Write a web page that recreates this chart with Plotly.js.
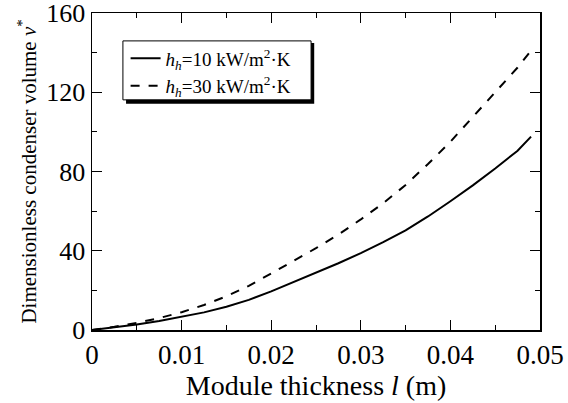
<!DOCTYPE html>
<html>
<head>
<meta charset="utf-8">
<script src="https://cdn.plot.ly/plotly-3.0.1.min.js"></script>
<style>html,body{margin:0;padding:0;background:#fff;}#chart{width:568px;height:403px;}</style>
</head>
<body>
<div id="chart"></div>
<script>
const thickness = [0, 0.0025, 0.005, 0.0075, 0.01, 0.0125, 0.015, 0.0175, 0.02, 0.0225, 0.025, 0.0275, 0.03, 0.0325, 0.035, 0.0375, 0.04, 0.0425, 0.045, 0.0475, 0.049];
const volumeH10 = [0, 1.3, 2.8, 4.6, 6.6, 8.9, 11.7, 15.2, 19.5, 24.2, 28.9, 33.7, 38.8, 44.3, 50.3, 57.3, 65, 73, 81.5, 90.5, 97.6];
const volumeH30 = [0, 1.6, 3.6, 6.0, 9.0, 12.6, 17.0, 22.3, 28.5, 34.8, 41.3, 48.2, 55.8, 64, 73.2, 83.8, 95, 107.5, 120, 132.5, 141];
const seriesNames = ["<i>h<sub>h</sub></i>=10 kW/m<sup>2</sup>·K", "<i>h<sub>h</sub></i>=30 kW/m<sup>2</sup>·K"];
const xTicks = [0, 0.01, 0.02, 0.03, 0.04, 0.05];
const xTickText = ["0", "0.01", "0.02", "0.03", "0.04", "0.05"];
const yTicks = [0, 40, 80, 120, 160];

const font = "Liberation Serif";
const traces = [
  {x: thickness, y: volumeH10, name: seriesNames[0], mode: "lines", line: {color: "#000", width: 2, dash: "solid"}},
  {x: thickness, y: volumeH30, name: seriesNames[1], mode: "lines", line: {color: "#000", width: 2, dash: "dash"}}
];
const axisCommon = {
  showline: true, linecolor: "#000", linewidth: 1.5, mirror: "ticks",
  ticks: "inside", ticklen: 10, tickwidth: 1.2, tickcolor: "#000",
  showgrid: false, zeroline: false, ticklabeloverflow: "allow"
};
const layout = {
  width: 568, height: 403,
  margin: {l: 92, r: 28, t: 13, b: 73},
  paper_bgcolor: "#fff", plot_bgcolor: "#fff",
  font: {family: font, color: "#000"},
  showlegend: true,
  xaxis: Object.assign({}, axisCommon, {
    range: [0, 0.05], tickvals: xTicks, ticktext: xTickText,
    tickfont: {family: font, size: 27, color: "#000"},
    minor: {ticks: "inside", ticklen: 5, tickwidth: 1, tickcolor: "#000", dtick: 0.005},
    title: {text: "Module thickness <i>l</i> (m)", font: {family: font, size: 28, color: "#000"}, standoff: 2}
  }),
  yaxis: Object.assign({}, axisCommon, {
    range: [0, 160], tickvals: yTicks,
    tickfont: {family: font, size: 26, color: "#000"},
    minor: {ticks: "inside", ticklen: 5, tickwidth: 1, tickcolor: "#000", dtick: 20},
    title: {text: "Dimensionless condenser volume <i>v</i><sup>*</sup>", font: {family: font, size: 21, color: "#000"}, standoff: 4}
  }),
  legend: {
    x: 0.075, y: 0.917, xanchor: "left", yanchor: "top",
    bgcolor: "rgba(0,0,0,0)", borderwidth: 0,
    font: {family: font, size: 19, color: "#000"},
    tracegroupgap: 0
  },
  shapes: [
    {type: "rect", xref: "paper", yref: "paper", x0: 0.076, x1: 0.496, y0: 0.714, y1: 0.905, fillcolor: "#000", line: {width: 0}, layer: "above"},
    {type: "rect", xref: "paper", yref: "paper", x0: 0.069, x1: 0.489, y0: 0.726, y1: 0.912, fillcolor: "#fff", line: {color: "#000", width: 1}, layer: "above"}
  ]
};
Plotly.newPlot("chart", traces, layout, {displayModeBar: false, staticPlot: true});
</script>
</body>
</html>
